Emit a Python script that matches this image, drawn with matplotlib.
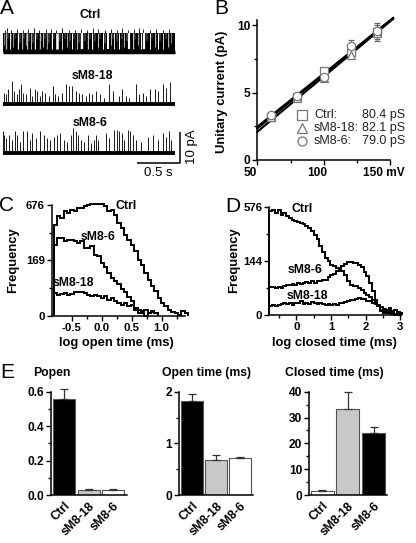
import numpy as np
import matplotlib
matplotlib.use('Agg')
import matplotlib.pyplot as plt
import matplotlib.transforms as mtransforms
from matplotlib.lines import Line2D

plt.rcParams['font.family'] = ['Liberation Sans', 'DejaVu Sans']

# ---------------- data ----------------
# A: single channel traces (time in s, amplitude in pA)
trace_len = 1.98
ctrl_amp = 6.0
ctrl_gap_t = [0.012, 0.03, 0.052, 0.081, 0.098, 0.12, 0.142, 0.178, 0.197, 0.217,
              0.24, 0.262, 0.275, 0.3, 0.322, 0.345, 0.372, 0.395, 0.422, 0.44,
              0.462, 0.485, 0.508, 0.53, 0.566, 0.59, 0.625, 0.655, 0.683, 0.71,
              0.741, 0.77, 0.799, 0.82, 0.849, 0.88, 0.915, 0.95, 0.98, 1.005,
              1.031, 1.06, 1.09, 1.12, 1.148, 1.175, 1.206, 1.244, 1.265, 1.283,
              1.31, 1.341, 1.37, 1.399, 1.43, 1.457, 1.496, 1.525, 1.554, 1.593,
              1.632, 1.66, 1.69, 1.72, 1.748, 1.787, 1.815, 1.845, 1.875, 1.903, 1.94]
ctrl_gap_dur = [0.006, 0.008, 0.004, 0.01, 0.005, 0.007, 0.004, 0.012, 0.005, 0.008,
                0.004, 0.006, 0.009, 0.004, 0.008, 0.005, 0.012, 0.004, 0.008, 0.005,
                0.009, 0.004, 0.007, 0.005, 0.012, 0.004, 0.03, 0.005, 0.009, 0.004,
                0.007, 0.005, 0.012, 0.004, 0.008, 0.005, 0.028, 0.005, 0.009, 0.004,
                0.012, 0.005, 0.008, 0.004, 0.012, 0.005, 0.024, 0.007, 0.004, 0.01,
                0.005, 0.012, 0.004, 0.008, 0.005, 0.025, 0.009, 0.004, 0.007, 0.012,
                0.026, 0.005, 0.01, 0.004, 0.008, 0.012, 0.005, 0.009, 0.004, 0.008, 0.006]
ctrl_gap_depth = [0.8, 1.0, 0.5, 1.0, 0.6, 0.9, 0.5, 1.0, 0.7, 1.0,
                  0.5, 0.8, 1.0, 0.6, 1.0, 0.7, 1.0, 0.5, 1.0, 0.6,
                  0.9, 0.5, 1.0, 0.7, 1.0, 0.5, 1.0, 0.6, 1.0, 0.5,
                  0.9, 0.6, 1.0, 0.5, 1.0, 0.7, 1.0, 0.6, 1.0, 0.5,
                  1.0, 0.6, 0.9, 0.5, 1.0, 0.7, 1.0, 0.8, 0.5, 1.0,
                  0.6, 1.0, 0.5, 0.9, 0.6, 1.0, 1.0, 0.5, 0.8, 1.0,
                  1.0, 0.6, 1.0, 0.5, 0.9, 1.0, 0.6, 1.0, 0.5, 0.9, 0.7]
ctrl_peak_t = [0.02, 0.05, 0.09, 0.16, 0.23, 0.29, 0.36, 0.41, 0.5, 0.55, 0.61, 0.68,
               0.76, 0.83, 0.9, 0.97, 1.04, 1.1, 1.18, 1.25, 1.32, 1.37, 1.44, 1.51,
               1.57, 1.62, 1.7, 1.77, 1.85, 1.92]
ctrl_peak_h = [7.0, 7.6, 6.8, 7.2, 6.9, 7.4, 7.7, 6.8, 7.1, 7.3, 6.9, 7.5,
               7.0, 6.8, 7.3, 7.0, 7.6, 7.2, 6.9, 7.4, 7.0, 7.5, 6.8, 7.2,
               7.6, 7.1, 6.9, 7.3, 7.0, 7.4]

sm18_t = [0.012, 0.035, 0.062, 0.10, 0.128, 0.159, 0.186, 0.206, 0.236, 0.264,
          0.306, 0.333, 0.364, 0.392, 0.422, 0.45, 0.488, 0.527, 0.578, 0.605,
          0.632, 0.682, 0.729, 0.759, 0.799, 0.837, 0.876, 0.915, 0.953, 0.992,
          1.031, 1.07, 1.12, 1.166, 1.225, 1.264, 1.341, 1.372, 1.419, 1.457,
          1.535, 1.574, 1.613, 1.651, 1.69, 1.748, 1.787, 1.845, 1.884, 1.922]
sm18_h = [3.6, 3.0, 4.7, 7.4, 4.1, 3.0, 4.7, 6.3, 3.6, 3.0,
          5.2, 2.4, 4.7, 4.1, 2.4, 4.1, 3.6, 2.4, 5.8, 3.0,
          2.4, 3.6, 6.3, 5.8, 5.8, 4.1, 3.6, 3.0, 2.4, 3.6,
          3.0, 4.1, 3.0, 1.9, 6.3, 4.1, 2.4, 4.7, 2.4, 1.9,
          6.3, 3.0, 3.6, 2.4, 4.7, 4.7, 4.1, 6.3, 5.2, 6.9]

sm6_t = [0.0, 0.012, 0.035, 0.074, 0.10, 0.14, 0.167, 0.198, 0.236, 0.275,
         0.306, 0.333, 0.384, 0.422, 0.469, 0.508, 0.547, 0.585, 0.624, 0.663,
         0.702, 0.741, 0.787, 0.81, 0.837, 0.864, 0.895, 0.934, 0.981, 1.012,
         1.05, 1.07, 1.09, 1.186, 1.225, 1.283, 1.314, 1.341, 1.368, 1.399,
         1.438, 1.469, 1.496, 1.535, 1.593, 1.671, 1.729, 1.787, 1.845, 1.884,
         1.91, 1.942]
sm6_h = [6.9, 5.8, 4.7, 5.8, 4.1, 6.9, 5.8, 3.6, 6.9, 6.9,
         4.1, 6.3, 4.7, 6.9, 5.8, 4.7, 4.1, 5.2, 5.8, 6.3,
         4.1, 3.6, 5.8, 8.0, 6.9, 5.8, 4.1, 3.6, 5.8, 3.0,
         4.1, 5.8, 4.1, 6.3, 4.7, 7.4, 7.1, 6.9, 6.3, 4.1,
         7.4, 6.9, 5.8, 4.1, 3.6, 5.2, 5.8, 4.1, 6.3, 5.2,
         6.9, 4.1]

# B: I-V relation
volts = [60, 80, 100, 120, 140]
iv_names = ['Ctrl', 'sM8-18', 'sM8-6']
iv_markers = ['s', '^', 'o']
iv_mean = [[3.2, 4.7, 6.6, 8.0, 9.5],
           [3.2, 4.6, 6.1, 7.8, 9.4],
           [3.35, 4.75, 6.2, 8.5, 9.6]]
iv_err = [[0.15, 0.2, 0.25, 0.3, 0.65],
          [0.15, 0.2, 0.2, 0.25, 0.4],
          [0.15, 0.15, 0.2, 0.4, 0.4]]
conductance = [80.4, 82.1, 79.0]   # pS
v_rev = [20.8, 24.4, 18.6]         # mV, x-intercept of fits

# C: open time histograms (sqrt frequency)
c_start, c_width = -0.80, 0.056
c_ctrl = [457, 545, 527, 601, 582, 620, 601, 640, 640, 660, 680, 690, 688, 690, 688,
          660, 601, 620, 563, 474, 424, 362, 319, 278, 228, 173, 144, 100, 71, 47.5,
          32.7, 17.3, 8.9, 4.9, 2.0, 0.75, 0.4, 0.06, 1.0, 0.4]
c_sm6 = [278, 333, 333, 305, 319, 319, 305, 291, 305, 253, 253, 265, 205, 194, 153,
         130, 100, 80, 65, 55, 38, 30, 20, 12, 1.5, 0.4, 0.4, 0.0, 0.5, 1.0, 0.3]
c_sm18 = [28.4, 24.4, 26, 28.4, 24.4, 27, 31, 31, 30, 28.4, 24.4, 20.7, 24.4, 20.7,
          17.3, 20.7, 14.2, 17.3, 11.4, 8.9, 6.7, 8.9, 4.9, 6.7, 3.3, 2.0, 1.0, 2.0,
          0.4, 0.6, 0.4]

# D: closed time histograms
d_start, d_width = -0.78, 0.08
d_ctrl = [534, 551, 517, 551, 500, 517, 484, 468, 452, 436, 430, 425, 413, 395, 377,
          349, 321, 285, 240, 195, 162, 144, 127, 119, 111, 111, 95, 82, 57, 46,
          42, 41, 37, 32, 25, 21, 17, 12, 7.5, 4, 0.8, 0.3, 0.6, 0.3, 0.5, 0.1, 0.3, 0]
d_sm6 = [38.7, 38.7, 36.9, 38.7, 36.9, 41.6, 44.4, 44.4, 48.5, 46.4, 51.6, 48.5, 51.6,
         54.9, 51.6, 57.1, 51.6, 57.1, 59.4, 62.8, 62.8, 71.3, 79.0, 84.3, 95.6, 107.5,
         118.6, 130, 140.5, 140.5, 133.5, 135.4, 126.8, 113.7, 92.8, 75.1, 51.6, 28.4,
         12.1, 4.0, 1.6, 0.8, 0.27, 0.8, 0.1, 0, 0, 0]
d_sm18 = [4.5, 5.6, 4.2, 5.0, 6.5, 7.5, 6.0, 8.0, 5.5, 7.0, 7.5, 9.5, 6.5, 8.0, 6.0,
          9.0, 7.0, 6.5, 7.5, 6.0, 5.0, 6.0, 5.0, 6.0, 5.5, 7.0, 8.0, 8.5, 10.0, 11.0,
          12.0, 13.5, 14.5, 13.0, 12.5, 10.0, 9.5, 7.5, 6.5, 5.0, 3.5, 2.0, 1.2, 2.5,
          0.8, 1.5, 0.5, 0.3]

# E: summary bars
groups = ['Ctrl', 'sM8-18', 'sM8-6']
popen = [0.56, 0.027, 0.031]
popen_err = [0.053, 0.006, 0.002]
open_time = [1.82, 0.68, 0.71]
open_err = [0.14, 0.085, 0.035]
closed_time = [1.7, 33.2, 24.1]
closed_err = [0.2, 6.8, 2.4]

# ---------------- figure ----------------
W, H = 416, 543
fig = plt.figure(figsize=(W / 100, H / 100), dpi=100)

TICK = 8.6
LAB = 9.4
SER = 8.8


def ax_px(l, t, r, b):
    return fig.add_axes([l / W, 1 - b / H, (r - l) / W, (b - t) / H])


def txt(x, y, s, **kw):
    kw.setdefault('ha', 'center')
    kw.setdefault('va', 'center')
    fig.text(x / W, 1 - y / H, s, **kw)


def style_axes(ax):
    for side in ['top', 'right']:
        ax.spines[side].set_visible(False)
    for side in ['left', 'bottom']:
        ax.spines[side].set_linewidth(1.1)
    ax.tick_params(which='major', direction='out', length=3.5, width=1.0, pad=1.5,
                   labelsize=TICK)
    ax.tick_params(which='minor', direction='out', length=2.5, width=1.0)
    for lab in ax.get_xticklabels() + ax.get_yticklabels():
        lab.set_fontweight('bold')


# ---- A ----
px_s, px_pa = 86.7, 3.17
axA = ax_px(0, 5, 200, 175)
axA.set_xlim(-3 / px_s, 197 / px_s)
axA.set_ylim(0, 170 / px_pa)
axA.axis('off')

base_ctrl, base_18, base_6 = 38.8, 22.4, 6.94
axA.fill_between([0, trace_len], base_ctrl, base_ctrl + ctrl_amp, color='k', lw=0)
axA.vlines(ctrl_peak_t, base_ctrl, [base_ctrl + h for h in ctrl_peak_h], color='#222222',
           lw=0.7)
gap_low = [base_ctrl + 1.0 + ctrl_amp * (1 - d) for d in ctrl_gap_depth]
axA.vlines(ctrl_gap_t, gap_low, base_ctrl + ctrl_amp + 0.1, color='white',
           lw=[d * px_s * 0.72 for d in ctrl_gap_dur])
axA.hlines(base_ctrl, 0, trace_len, color='k', lw=2.5)

for base, ts, hs in [(base_18, sm18_t, sm18_h), (base_6, sm6_t, sm6_h)]:
    axA.vlines(ts, base, [base + h for h in hs], color='#1a1a1a', lw=0.7)
    axA.hlines(base, 0, trace_len, color='k', lw=2.8)

bar_t, bar_pa = 0.5, 10
sb_x, sb_y = 2.042, 3.69
axA.plot([sb_x - bar_t, sb_x, sb_x], [sb_y, sb_y, sb_y + bar_pa], color='k', lw=1.1,
         solid_capstyle='butt')

txt(7, 9, 'A', fontsize=15)
txt(90, 15, 'Ctrl', fontsize=SER, weight='bold')
txt(92, 76, 'sM8-18', fontsize=SER, weight='bold')
txt(90, 122.5, 'sM8-6', fontsize=SER, weight='bold')
txt(158, 173.5, '0.5 s', fontsize=9.5)
txt(192, 147, '10 pA', fontsize=9.5, rotation=90)

# ---- B ----
axB = ax_px(257.4, 20, 390.4, 160)
vfit = np.array([50, 152])
for k in range(3):
    axB.plot(vfit, conductance[k] / 1000 * (vfit - v_rev[k]), color='k', lw=1.5,
             clip_on=False, zorder=2)
for k in range(3):
    axB.errorbar(volts, iv_mean[k], yerr=iv_err[k], fmt=iv_markers[k], ms=6,
                 mfc='white', mec='#777777', mew=0.9, ecolor='#666666', elinewidth=0.8,
                 capsize=2, capthick=0.8, zorder=3, clip_on=False)
axB.set_xlim(50, 150)
axB.set_ylim(0, 10.4)
axB.set_xticks([50, 100, 150])
axB.set_xticklabels(['50', '100', '150 mV'])
axB.set_xticks([75, 125], minor=True)
axB.set_yticks([0, 5, 10])
axB.set_yticks([2.5, 7.5], minor=True)
style_axes(axB)
shift = mtransforms.ScaledTranslation(-7 / 100, 0, fig.dpi_scale_trans)
for lab in axB.get_xticklabels():
    lab.set_transform(lab.get_transform() + shift)

for k in range(3):
    yk = 115 + 13.2 * k
    fig.add_artist(Line2D([301.7 / W], [1 - yk / H], marker=iv_markers[k], ms=6.5,
                          mfc='white', mec='#777777', mew=0.9, ls='none',
                          transform=fig.transFigure))
    txt(314, yk, iv_names[k] + ':', fontsize=9, ha='left', color='#222222')
    txt(405, yk, f'{conductance[k]:.1f} pS', fontsize=9, ha='right', color='#222222')

txt(221, 9, 'B', fontsize=15)
txt(222, 92, 'Unitary current (pA)', fontsize=LAB, weight='bold', rotation=90)


# ---- C and D ----
def sqrt_fwd(v):
    return np.sqrt(np.clip(v, 0, None))


def hist_axes(ax, top, series, start, width, xlim, xticks, xminor, xlabels):
    for vals in series:
        edges = start + width * np.arange(len(vals) + 1)
        ax.stairs(vals, edges, baseline=0, color='k', lw=1.4, clip_on=False)
    ax.set_yscale('function', functions=(sqrt_fwd, np.square))
    ax.set_ylim(0, top)
    ax.set_xlim(*xlim)
    ax.set_yticks([0, top / 4, top])
    ax.set_yticklabels(['0', f'{top / 4:.0f}', f'{top:.0f}'])
    ax.set_yticks([top / 16, top * 9 / 16], minor=True)
    ax.set_xticks(xticks)
    ax.set_xticklabels(xlabels)
    ax.set_xticks(xminor, minor=True)
    style_axes(ax)
    ax.tick_params(labelsize=8.2)


axC = ax_px(51.7, 205, 185, 315.7)
hist_axes(axC, 676, [c_ctrl, c_sm6, c_sm18], c_start, c_width, (-0.83, 1.39),
          [-0.5, 0, 0.5, 1.0], [-0.25, 0.25, 0.75, 1.25],
          ['-0.5', '0.0', '0.5', '1.0'])
txt(6, 206, 'C', fontsize=15)
txt(13, 260, 'Frequency', fontsize=LAB, weight='bold', rotation=90)
txt(116, 343, 'log open time (ms)', fontsize=LAB, weight='bold')
txt(126, 206, 'Ctrl', fontsize=SER, weight='bold')
txt(98, 237, 'sM8-6', fontsize=SER, weight='bold')
txt(73, 283, 'sM8-18', fontsize=SER, weight='bold')

axD = ax_px(269.3, 207.3, 400.3, 315.3)
hist_axes(axD, 576, [d_ctrl, d_sm6, d_sm18], d_start, d_width, (-0.784, 3.0),
          [0, 1, 2, 3], [-0.5, 0.5, 1.5, 2.5], ['0', '1', '2', '3'])
txt(233, 207, 'D', fontsize=15)
txt(234, 260, 'Frequency', fontsize=LAB, weight='bold', rotation=90)
txt(334, 343, 'log closed time (ms)', fontsize=LAB, weight='bold')
txt(302, 209, 'Ctrl', fontsize=SER, weight='bold')
txt(305, 270, 'sM8-6', fontsize=SER, weight='bold')
txt(307, 296, 'sM8-18', fontsize=SER, weight='bold')


# ---- E ----
def bar_axes(rect, vals, errs, colors, ymax, major, minor, xlim, title, title_x, fmt):
    ax = ax_px(*rect)
    x = np.arange(len(vals))
    ax.bar(x, vals, width=0.9, color=colors, edgecolor='#555555', lw=0.8, zorder=2)
    ax.errorbar(x, vals, yerr=[np.zeros(len(vals)), errs], fmt='none', ecolor='#333333',
                elinewidth=0.9, capsize=3.2, capthick=0.9, zorder=3, clip_on=False)
    ax.set_ylim(0, ymax)
    ax.set_xlim(*xlim)
    ax.set_yticks(major)
    ax.set_yticklabels([fmt.format(v) for v in major])
    ax.set_yticks(minor, minor=True)
    ax.set_xticks(x)
    ax.set_xticklabels(groups, rotation=45, ha='right', rotation_mode='anchor')
    style_axes(ax)
    ax.tick_params(axis='x', length=0, pad=3.5, labelsize=8.8)
    txt(title_x, 373, title, fontsize=8.8, weight='bold', ha='left')
    return ax


bar_axes((50.7, 391.7, 126.7, 495), popen, popen_err, ['black', '#c8c8c8', 'white'],
         0.6, [0, 0.2, 0.4, 0.6], [0.1, 0.3, 0.5], (-0.56, 2.57), 'Popen', 33, '{:.1f}')
bar_axes((179.3, 391.7, 253, 495), open_time, open_err, ['black', '#c8c8c8', 'white'],
         2, [0, 1, 2], [0.5, 1.5], (-0.52, 2.52), 'Open time (ms)', 162, '{:.0f}')
bar_axes((309.3, 391.7, 387, 495), closed_time, closed_err, ['white', '#c8c8c8', 'black'],
         40, [0, 10, 20, 30, 40], [5, 15, 25, 35], (-0.5, 2.52), 'Closed time (ms)', 285,
         '{:.0f}')
txt(7, 372, 'E', fontsize=15)

fig.savefig('out.png', dpi=100)
